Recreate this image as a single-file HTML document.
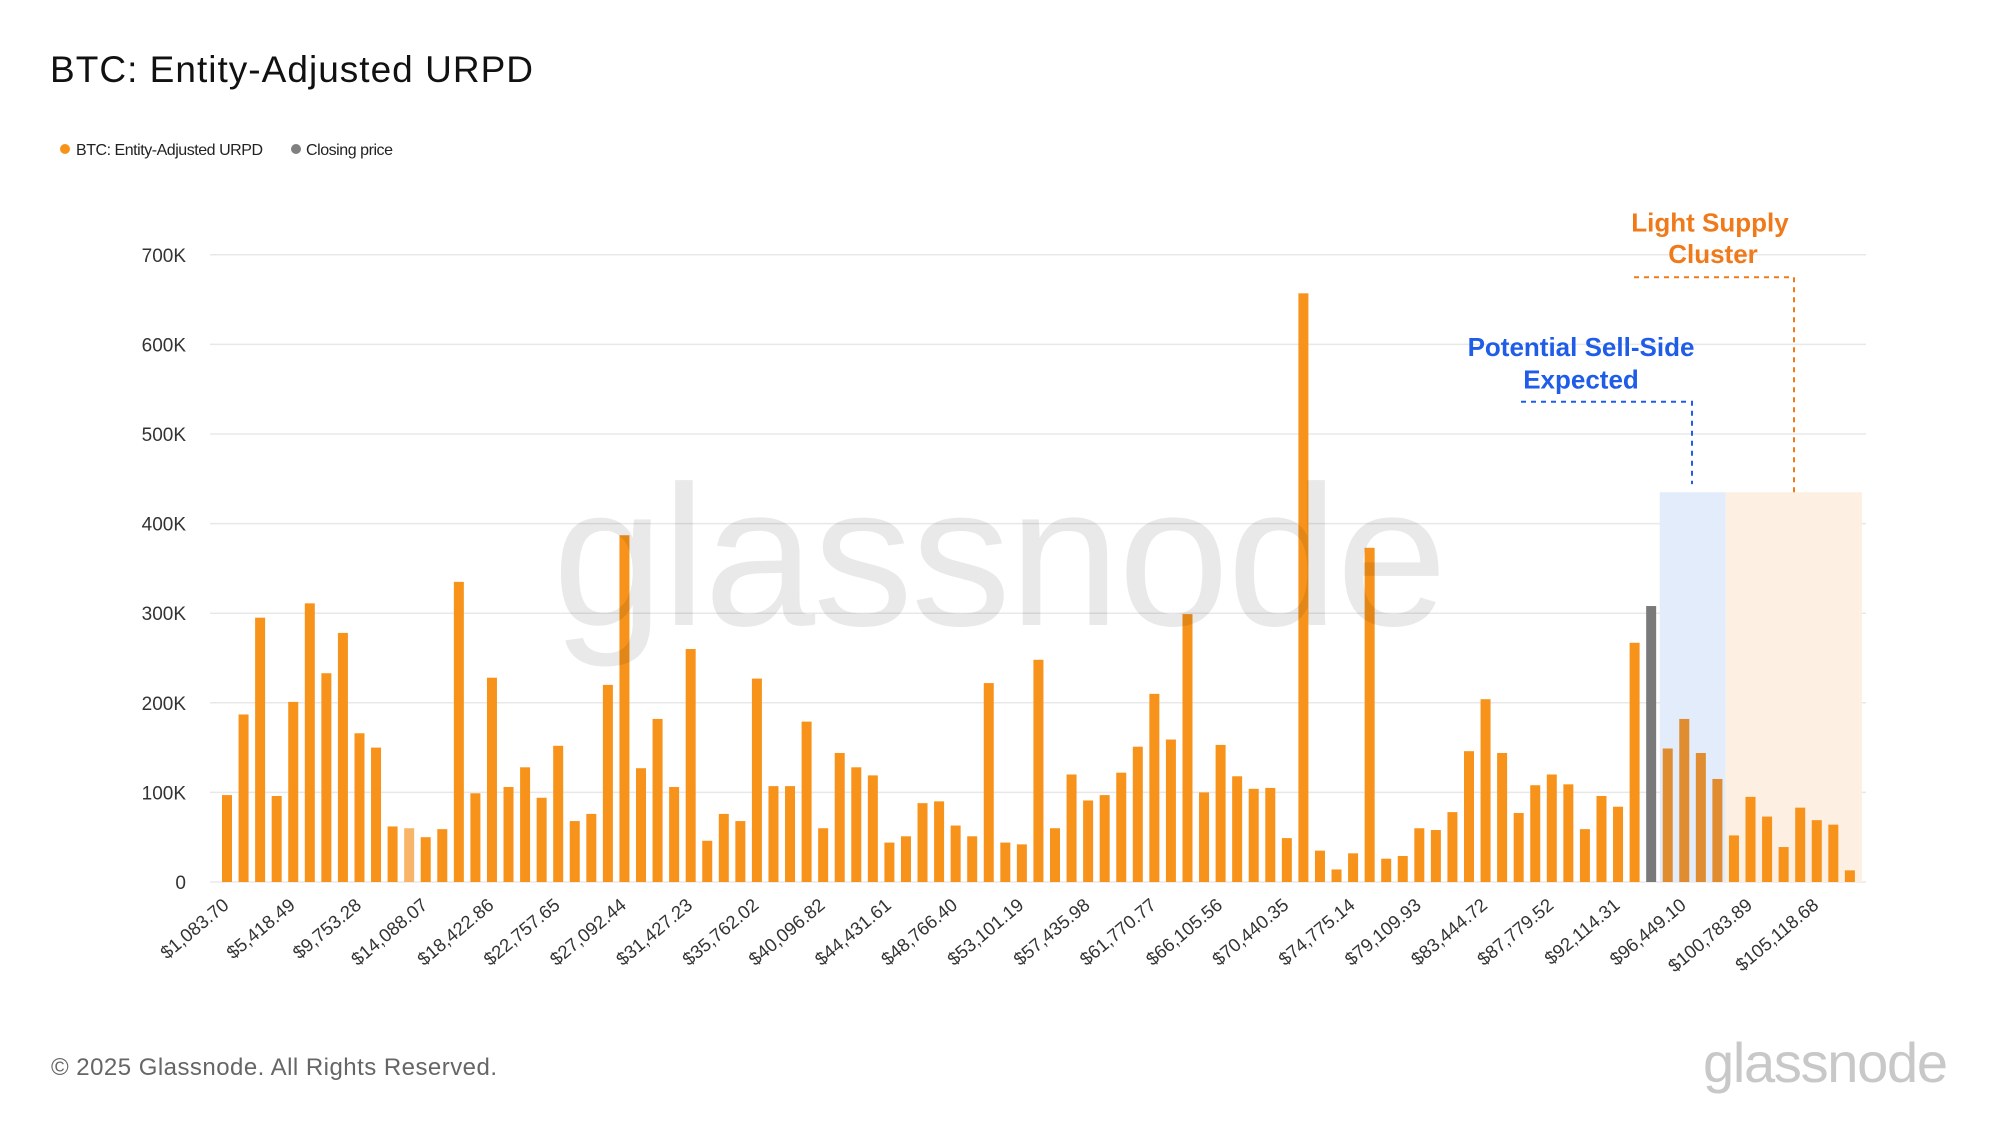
<!DOCTYPE html>
<html><head><meta charset="utf-8"><style>
html,body{margin:0;padding:0;background:#fff;}
svg{display:block;font-family:"Liberation Sans",sans-serif;}
</style></head><body>
<svg id="chart" width="2000" height="1125" viewBox="0 0 2000 1125">
<text x="50" y="82" font-size="37" fill="#111" textLength="483">BTC: Entity-Adjusted URPD</text>
<g>
<circle cx="65" cy="149" r="5" fill="#f7931a"/>
<text x="76" y="155" font-size="16" fill="#222" textLength="187">BTC: Entity-Adjusted URPD</text>
<circle cx="296" cy="149" r="5" fill="#808080"/>
<text x="306" y="155" font-size="16" fill="#222" textLength="87">Closing price</text>
</g>
<g id="grid"></g>
<g id="regions"></g>
<g id="bars"></g>
<text x="1000" y="625" font-size="200" text-anchor="middle" fill="rgba(0,0,0,0.085)" textLength="895">glassnode</text>
<g id="ylabels"></g>
<g id="xlabels"></g>
<g id="annotations"></g>
<text x="51" y="1075" font-size="24" fill="#666" textLength="446">© 2025 Glassnode. All Rights Reserved.</text>
<text x="1703" y="1082" font-size="56" fill="#c8c8c8" textLength="245">glassnode</text>
</svg>
<script>
const yTicks = [0,100,200,300,400,500,600,700];
const yTickLabels = ["0","100K","200K","300K","400K","500K","600K","700K"];
const xTickLabels = ["$1,083.70","$5,418.49","$9,753.28","$14,088.07","$18,422.86","$22,757.65","$27,092.44","$31,427.23","$35,762.02","$40,096.82","$44,431.61","$48,766.40","$53,101.19","$57,435.98","$61,770.77","$66,105.56","$70,440.35","$74,775.14","$79,109.93","$83,444.72","$87,779.52","$92,114.31","$96,449.10","$100,783.89","$105,118.68"];
const values = [97,187,295,96,201,311,233,278,166,150,62,60,50,59,335,99,228,106,128,94,152,68,76,220,387,127,182,106,260,46,76,68,227,107,107,179,60,144,128,119,44,51,88,90,63,51,222,44,42,248,60,120,91,97,122,151,210,159,299,100,153,118,104,105,49,657,35,14,32,373,26,29,60,58,78,146,204,144,77,108,120,109,59,96,84,267,308,149,182,144,115,52,95,73,39,83,69,64,13];
const closingIndex = 86;
const fadedIndex = 11;
const labelEvery = 4;
const blueRegion = [87,90];
const orangeRegion = [91,98];
const regionTop = 435;

const NS="http://www.w3.org/2000/svg";
const X0=227, STEP=16.56, BW=10, BASE=882, PXK=0.896, GL=210, GR=1866;
function xPos(i){return X0+i*STEP;}
function yPos(v){return BASE-v*PXK;}
function mk(tag,attrs,parent){const e=document.createElementNS(NS,tag);for(const k in attrs)e.setAttribute(k,attrs[k]);parent.appendChild(e);return e;}
const grid=document.getElementById('grid'), yl=document.getElementById('ylabels');
yTicks.forEach((t,i)=>{
  const l=mk('line',{x1:GL,x2:GR,y1:yPos(t),y2:yPos(t),stroke:'#e8e8e8','stroke-width':1.5},grid);
  
  
  const tx=mk('text',{x:186,y:yPos(t)+7,'font-size':19,fill:'#333','text-anchor':'end'},yl);
  tx.textContent=yTickLabels[i];
  
  
});
const reg=document.getElementById('regions');
const bStart=xPos(blueRegion[0])-BW/2-3;
const oStart=(xPos(blueRegion[1])+xPos(orangeRegion[0]))/2;
const b=mk('rect',{x:bStart,y:yPos(regionTop),width:oStart-bStart,height:BASE-yPos(regionTop),fill:'#e3ecfb'},reg);


const o=mk('rect',{x:oStart,y:yPos(regionTop),width:xPos(orangeRegion[1])+BW/2+7-oStart,height:BASE-yPos(regionTop),fill:'#fdefe1'},reg);


const bars=document.getElementById('bars');
values.forEach((v,i)=>{
  let fill='#f7931a';
  if(i===closingIndex) fill='#7a7a7a';
  else if(i===fadedIndex) fill='#f8b469';
  else if(i>=blueRegion[0]&&i<=blueRegion[1]) fill='#e08c30';
  const r=mk('rect',{x:xPos(i)-BW/2,y:yPos(v),width:BW,height:BASE-yPos(v),fill:fill},bars);
  
  
});
const xl=document.getElementById('xlabels');
xTickLabels.forEach((s,k)=>{
  const i=k*labelEvery;
  const x=xPos(i)+3, y=907;
  const t=mk('text',{x:x,y:y,'font-size':18.5,fill:'#333','text-anchor':'end',transform:`rotate(-40 ${x} ${y})`},xl);
  t.textContent=s;
  
  
});
const an=document.getElementById('annotations');
const bx1=1537, bx2=1708, ox1=1650, ox2=1810;
const bxs=-16;
const p1=mk('polyline',{points:`${bx1+bxs},${yPos(536)} ${bx2+bxs},${yPos(536)} ${bx2+bxs},${yPos(444)}`,fill:'none',stroke:'#1f5ce8','stroke-width':2,'stroke-dasharray':'5,5'},an);


const p2=mk('polyline',{points:`${ox1+bxs},${yPos(675)} ${ox2+bxs},${yPos(675)} ${ox2+bxs},${yPos(435)}`,fill:'none',stroke:'#f07a1a','stroke-width':2,'stroke-dasharray':'5,5'},an);


[['Potential Sell-Side',1581,yPos(597)+9,'#1f5ce8','sell-side-annotation'],['Expected',1581,yPos(561)+9,'#1f5ce8','sell-side-annotation'],['Light Supply',1710,yPos(736)+9,'#f07a1a','light-supply-annotation'],['Cluster',1713,yPos(701)+9,'#f07a1a','light-supply-annotation']].forEach(a=>{
  const t=mk('text',{x:a[1],y:a[2],'font-size':26,'font-weight':'bold',fill:a[3],'text-anchor':'middle'},an);
  t.textContent=a[0];
  
  
});
</script>
</body></html>
